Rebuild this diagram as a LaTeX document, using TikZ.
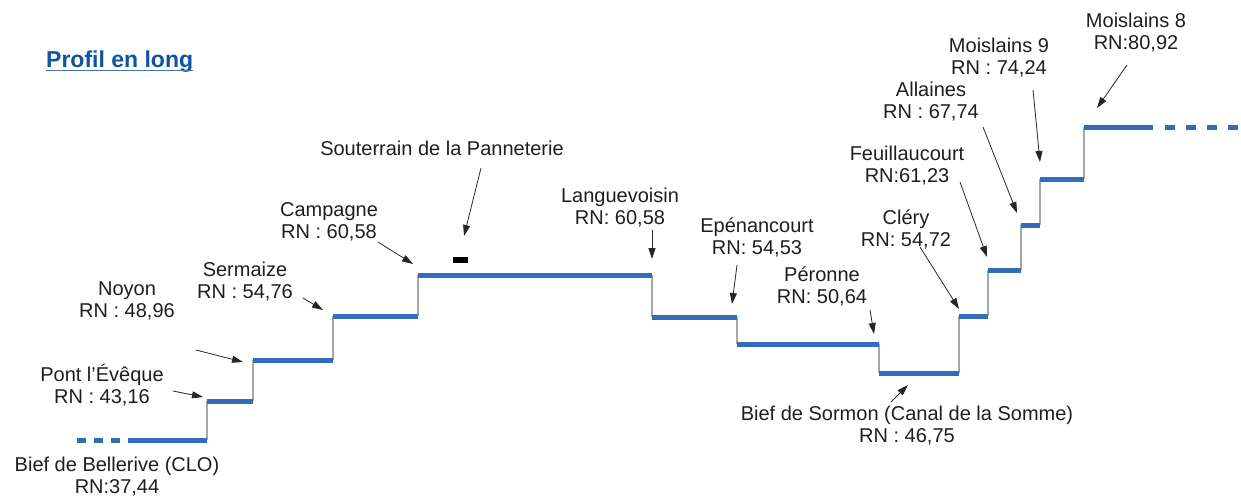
\documentclass[tikz,border=0pt]{standalone}
\usepackage{fontspec}
\setmainfont{Liberation Sans}
\usetikzlibrary{arrows.meta}
\definecolor{stepblue}{RGB}{52,108,188}
\definecolor{titleblue}{RGB}{16,84,158}
\definecolor{txt}{RGB}{30,30,30}
\begin{document}
\begin{tikzpicture}[x=1pt,y=-1pt,
  lbl/.style={align=center, font=\fontsize{20}{22}\selectfont, text=txt, inner sep=0pt},
  ptr/.style={-{Triangle[length=11pt,width=7pt]}, line width=0.8pt, draw=black!85},
  level/.style={line width=5pt, draw=stepblue},
  dashlevel/.style={level, dash pattern=on 9pt off 8pt},
  dashlevelb/.style={level, dash pattern=on 10pt off 11pt},
  riser/.style={line width=1.2pt, draw=gray!70},
  bar/.style={fill=black, draw=none}]
\useasboundingbox (0,0) rectangle (1241,498);

% title
\node[anchor=base west, inner sep=0pt, font=\fontsize{23}{26}\selectfont\bfseries, text=titleblue] (title) at (46,67) {Profil en long};
\draw[titleblue!80, line width=1.6pt] ([yshift=-3.5pt]title.base west) -- ([yshift=-3.5pt]title.base east);

% profile coordinates
\coordinate (d0) at (77,440);
\coordinate (d1) at (122,440);
\coordinate (a0) at (128,440);
\coordinate (a1) at (207,440);
\coordinate (b0) at (207,401);  \coordinate (b1) at (253,401);
\coordinate (c0) at (253,360);  \coordinate (c1) at (333,360);
\coordinate (e0) at (333,316);  \coordinate (e1) at (418,316);
\coordinate (f0) at (418,275);  \coordinate (f1) at (652,275);
\coordinate (g0) at (652,317);  \coordinate (g1) at (737,317);
\coordinate (h0) at (737,344);  \coordinate (h1) at (879,344);
\coordinate (i0) at (879,373);  \coordinate (i1) at (959,373);
\coordinate (j0) at (959,316);  \coordinate (j1) at (988,316);
\coordinate (k0) at (988,270);  \coordinate (k1) at (1021,270);
\coordinate (l0) at (1021,225); \coordinate (l1) at (1040,225);
\coordinate (m0) at (1040,179); \coordinate (m1) at (1084,179);
\coordinate (n0) at (1084,127); \coordinate (n1) at (1153,127);
\coordinate (o0) at (1165,127); \coordinate (o1) at (1241,127);

% risers
\draw[riser] (a1) -- (b0);
\draw[riser] (b1) -- (c0);
\draw[riser] (c1) -- (e0);
\draw[riser] (e1) -- (f0);
\draw[riser] (f1) -- (g0);
\draw[riser] (g1) -- (h0);
\draw[riser] (h1) -- (i0);
\draw[riser] (i1) -- (j0);
\draw[riser] (j1) -- (k0);
\draw[riser] (k1) -- (l0);
\draw[riser] (l1) -- (m0);
\draw[riser] (m1) -- (n0);

% levels
\draw[dashlevel] (d0) -- (d1);
\draw[level] (a0) -- (a1);
\draw[level] (b0) -- (b1);
\draw[level] (c0) -- (c1);
\draw[level] (e0) -- (e1);
\draw[level] (f0) -- (f1);
\draw[level] (g0) -- (g1);
\draw[level] (h0) -- (h1);
\draw[level] (i0) -- (i1);
\draw[level] (j0) -- (j1);
\draw[level] (k0) -- (k1);
\draw[level] (l0) -- (l1);
\draw[level] (m0) -- (m1);
\draw[level] (n0) -- (n1);
\draw[dashlevelb] (o0) -- (o1);

% tunnel mark
\path[bar] (453,256.5) rectangle (468,262.5);

% labels
\node[lbl] (bellerive) at (117,477) {Bief de Bellerive (CLO)\\RN:37,44};
\node[lbl] (pont) at (102,385) {Pont l’Évêque\\RN : 43,16};
\node[lbl] (noyon) at (127,301) {Noyon\\RN : 48,96};
\node[lbl] (sermaize) at (245,282) {Sermaize\\RN : 54,76};
\node[lbl] (campagne) at (329,222) {Campagne\\RN : 60,58};
\node[lbl] (souterrain) at (442,148) {Souterrain de la Panneterie};
\node[lbl] (languevoisin) at (620,208) {Languevoisin\\RN: 60,58};
\node[lbl] (epenancourt) at (757,237) {Epénancourt\\RN: 54,53};
\node[lbl] (peronne) at (822,286) {Péronne\\RN: 50,64};
\node[lbl] (clery) at (906,229) {Cléry\\RN: 54,72};
\node[lbl] (sormon) at (907,426) {Bief de Sormon (Canal de la Somme)\\RN : 46,75};
\node[lbl] (feuillaucourt) at (907,166) {Feuillaucourt\\RN:61,23};
\node[lbl] (allaines) at (931,102) {Allaines\\RN : 67,74};
\node[lbl] (moislains9) at (999,57.5) {Moislains 9\\RN : 74,24};
\node[lbl] (moislains8) at (1136,32.5) {Moislains 8\\RN:80,92};

% arrow end points
\coordinate (pt0) at (173,391);  \coordinate (pt1) at (203,397);
\coordinate (ny0) at (196,350);  \coordinate (ny1) at (243,362);
\coordinate (sm0) at (303,298);  \coordinate (sm1) at (323,310);
\coordinate (cp0) at (378,242);  \coordinate (cp1) at (413,264);
\coordinate (st0) at (481,168);  \coordinate (st1) at (464,236);
\coordinate (lv0) at (652,230);  \coordinate (lv1) at (652,259);
\coordinate (ep0) at (737,265);  \coordinate (ep1) at (732,304);
\coordinate (pe0) at (870,310);  \coordinate (pe1) at (874,334);
\coordinate (cl0) at (920,247);  \coordinate (cl1) at (959,309);
\coordinate (so0) at (891,402);  \coordinate (so1) at (908,385);
\coordinate (fe0) at (960,182);  \coordinate (fe1) at (987,257);
\coordinate (al0) at (983,127);  \coordinate (al1) at (1017,213);
\coordinate (m90) at (1033,90);  \coordinate (m91) at (1040,162);
\coordinate (m80) at (1127,65);  \coordinate (m81) at (1097,108);

\draw[ptr] (pt0) -- (pt1);
\draw[ptr] (ny0) -- (ny1);
\draw[ptr] (sm0) -- (sm1);
\draw[ptr] (cp0) -- (cp1);
\draw[ptr] (st0) -- (st1);
\draw[ptr] (lv0) -- (lv1);
\draw[ptr] (ep0) -- (ep1);
\draw[ptr] (pe0) -- (pe1);
\draw[ptr] (cl0) -- (cl1);
\draw[ptr] (so0) -- (so1);
\draw[ptr] (fe0) -- (fe1);
\draw[ptr] (al0) -- (al1);
\draw[ptr] (m90) -- (m91);
\draw[ptr] (m80) -- (m81);
\end{tikzpicture}
\end{document}
